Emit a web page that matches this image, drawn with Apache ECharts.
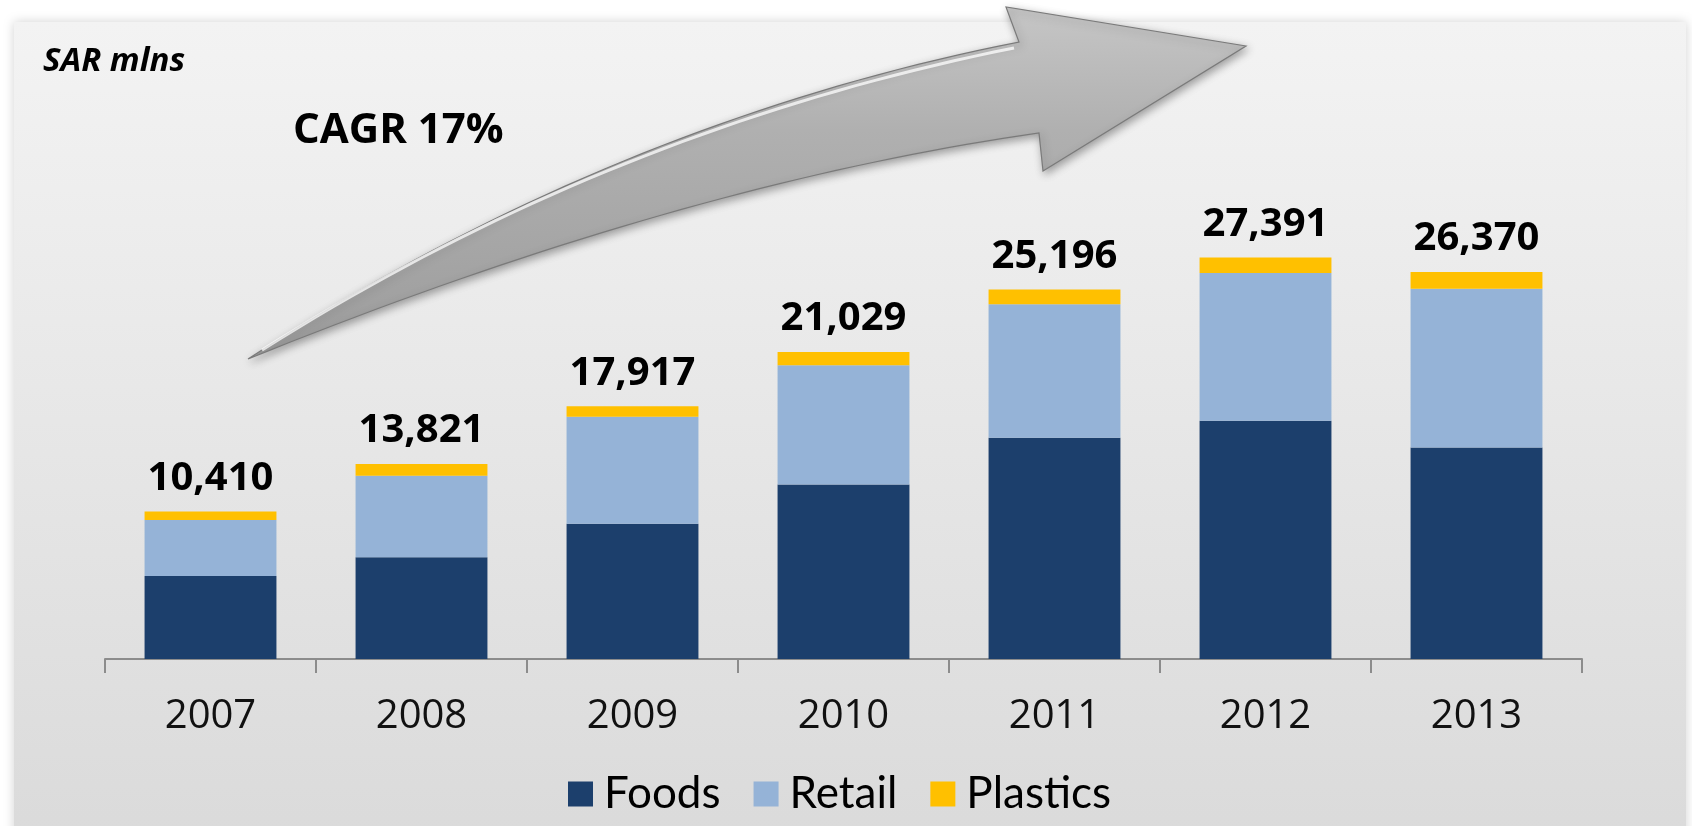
<!DOCTYPE html>
<html>
<head>
<meta charset="utf-8">
<style>
  html, body { margin: 0; padding: 0; background: #ffffff; }
  #chart { width: 1692px; height: 826px; }
</style>
<script src="https://cdn.jsdelivr.net/npm/echarts@6/dist/echarts.min.js"></script>
</head>
<body>
<div id="chart"></div>
<script>
// ---- data (SAR mlns) ----
const years = ['2007', '2008', '2009', '2010', '2011', '2012', '2013'];
const foods = [5660, 6930, 9220, 11900, 15090, 16240, 14420];
const retail = [3820, 5570, 7290, 8120, 9090, 10070, 10820];
const plastics = [570, 800, 730, 910, 1020, 1060, 1140];
const totals = [10410, 13821, 17917, 21029, 25196, 27391, 26370];
const unitLabel = 'SAR mlns';
const cagrLabel = 'CAGR 17%';

const fmt = v => v.toLocaleString('en-US');

// decorative arrow outline (quadratic curves sampled into polygon points)
function quad(p0, c, p1, n) {
  const pts = [];
  for (let i = 0; i <= n; i++) {
    const t = i / n, u = 1 - t;
    pts.push([u * u * p0[0] + 2 * u * t * c[0] + t * t * p1[0],
              u * u * p0[1] + 2 * u * t * c[1] + t * t * p1[1]]);
  }
  return pts;
}
const tail = [248, 359];
const upper = quad(tail, [613, 122], [1019, 42], 40);
const lower = quad([1039, 133], [680, 184], tail, 40);
const arrowPts = upper.concat([[1006, 7], [1246, 46], [1043, 171]], lower);
const shinePts = quad([262, 350], [613, 128], [1014, 48], 40);

const chart = echarts.init(document.getElementById('chart'), null, { renderer: 'canvas' });

const vGrad = (stops) => ({ type: 'linear', x: 0, y: 0, x2: 0, y2: 1, colorStops: stops });

const option = {
  backgroundColor: '#ffffff',
  animation: false,
  grid: { left: 105, right: 110, top: 219, bottom: 167, containLabel: false },
  legend: {
    left: 563,
    top: 767,
    itemWidth: 25,
    itemHeight: 25,
    itemGap: 33,
    icon: 'rect',
    textStyle: { fontFamily: 'Lato', fontSize: 44, color: '#000', padding: [0, 0, 0, 6] },
    data: ['Foods', 'Retail', 'Plastics']
  },
  xAxis: {
    type: 'category',
    data: years,
    axisLine: { lineStyle: { color: '#8c8c8c', width: 2 } },
    axisTick: { show: true, length: 14, lineStyle: { color: '#8c8c8c', width: 2 } },
    axisLabel: { fontFamily: 'Open Sans', fontSize: 40, color: '#111', margin: 38 }
  },
  yAxis: {
    type: 'value', min: 0, max: 30000, show: false,
    splitLine: { show: false }
  },
  graphic: [
    {
      type: 'rect', z: -10, silent: true,
      shape: { x: 14, y: 22, width: 1672, height: 830 },
      style: {
        fill: vGrad([{ offset: 0, color: '#f3f3f3' }, { offset: 1, color: '#dadada' }]),
        shadowBlur: 10, shadowColor: 'rgba(0,0,0,0.18)'
      }
    },
    {
      type: 'polygon', z: 1, silent: true,
      shape: { points: arrowPts },
      style: {
        fill: vGrad([
          { offset: 0, color: '#c6c6c6' },
          { offset: 0.35, color: '#b0b0b0' },
          { offset: 1, color: '#9c9c9c' }
        ]),
        stroke: '#7a7a7a', lineWidth: 1.2,
        shadowBlur: 8, shadowColor: 'rgba(0,0,0,0.35)', shadowOffsetX: 2, shadowOffsetY: 3
      }
    },
    {
      type: 'polyline', z: 2, silent: true,
      shape: { points: shinePts },
      style: { fill: null, stroke: 'rgba(255,255,255,0.75)', lineWidth: 3 }
    },
    {
      type: 'text', z: 5, left: 43, top: 45,
      style: { text: unitLabel, fontFamily: 'Open Sans', fontWeight: 'bold', fontStyle: 'italic', fontSize: 33, fill: '#000' }
    },
    {
      type: 'text', z: 5, left: 293, top: 110,
      style: { text: cagrLabel, fontFamily: 'Open Sans', fontWeight: 'bold', fontSize: 42, fill: '#000' }
    }
  ],
  series: [
    {
      name: 'Foods', type: 'bar', stack: 'total', barWidth: '62.5%',
      itemStyle: { color: '#1c3f6c' },
      data: foods
    },
    {
      name: 'Retail', type: 'bar', stack: 'total',
      itemStyle: { color: '#95b3d7' },
      data: retail
    },
    {
      name: 'Plastics', type: 'bar', stack: 'total',
      itemStyle: { color: '#ffc000' },
      data: plastics,
      label: {
        show: true, position: 'top', distance: 13,
        fontFamily: 'Open Sans', fontWeight: 'bold', fontSize: 40, color: '#000',
        formatter: p => fmt(totals[p.dataIndex])
      }
    }
  ]
};

chart.setOption(option);
</script>
</body>
</html>
